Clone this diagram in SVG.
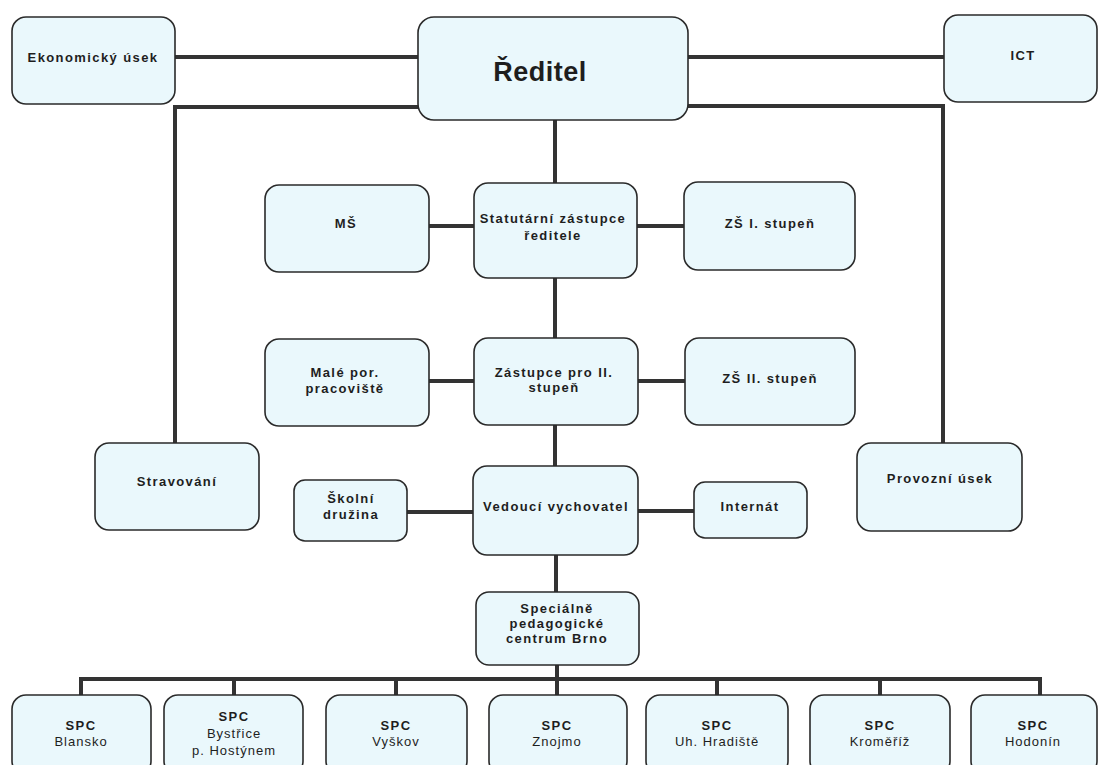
<svg xmlns="http://www.w3.org/2000/svg" width="1100" height="765" viewBox="0 0 1100 765">
<style>
.box{fill:#eaf8fc;stroke:#2a2a2a;stroke-width:1.6}
.t{font-family:"Liberation Sans",Arial,sans-serif;font-size:13px;font-weight:bold;letter-spacing:1.4px;fill:#1e1e1e;text-anchor:middle}
.r{font-weight:normal;letter-spacing:1px}
.big{font-size:27px;letter-spacing:0.5px}
.c{fill:none;stroke:#333;stroke-width:4}
</style>
<rect width="1100" height="765" fill="#ffffff"/>
<g id="connectors">
<path class="c" d="M175 57H418M688 57H944"/>
<path class="c" d="M418 107H175V443"/>
<path class="c" d="M688 106H943V443"/>
<path class="c" d="M555 120V183M555 278V338M555 425V466M556 555V592M557 665V679"/>
<path class="c" d="M429 226H474M637 226H684"/>
<path class="c" d="M429 381H474M638 381H685"/>
<path class="c" d="M407 512H473M638 511H694"/>
<path class="c" d="M81 697V679H1040V697M234 679V697M396 679V697M557 679V697M717 679V697M880 679V697"/>
</g>
<g id="ekonomicky"><rect class="box" x="12" y="17" width="163" height="87" rx="14"/><text class="t" x="93" y="62">Ekonomický úsek</text></g>
<g id="reditel"><rect class="box" x="418" y="17" width="270" height="103" rx="16"/><text class="t big" x="540" y="81">Ředitel</text></g>
<g id="ict"><rect class="box" x="944" y="15" width="153" height="87" rx="14"/><text class="t" x="1023" y="60">ICT</text></g>
<g id="ms"><rect class="box" x="265" y="185" width="164" height="87" rx="14"/><text class="t" x="346" y="228">MŠ</text></g>
<g id="statutarni"><rect class="box" x="474" y="183" width="163" height="95" rx="14"/><text class="t" x="553" y="223">Statutární zástupce</text><text class="t" x="553" y="240">ředitele</text></g>
<g id="zs1"><rect class="box" x="684" y="182" width="171" height="88" rx="14"/><text class="t" x="770" y="228">ZŠ I. stupeň</text></g>
<g id="male"><rect class="box" x="265" y="339" width="164" height="87" rx="14"/><text class="t" x="345" y="377">Malé por.</text><text class="t" x="345" y="393">pracoviště</text></g>
<g id="zastupce"><rect class="box" x="474" y="338" width="164" height="87" rx="14"/><text class="t" x="554" y="377">Zástupce pro II.</text><text class="t" x="554" y="392">stupeň</text></g>
<g id="zs2"><rect class="box" x="685" y="338" width="170" height="87" rx="14"/><text class="t" x="770" y="383">ZŠ II. stupeň</text></g>
<g id="stravovani"><rect class="box" x="95" y="443" width="164" height="87" rx="14"/><text class="t" x="177" y="486">Stravování</text></g>
<g id="provozni"><rect class="box" x="857" y="443" width="165" height="88" rx="14"/><text class="t" x="940" y="483">Provozní úsek</text></g>
<g id="skolni"><rect class="box" x="294" y="480" width="113" height="61" rx="11"/><text class="t" x="351" y="503">Školní</text><text class="t" x="351" y="519">družina</text></g>
<g id="vedouci"><rect class="box" x="473" y="466" width="165" height="89" rx="14"/><text class="t" x="556" y="511">Vedoucí vychovatel</text></g>
<g id="internat"><rect class="box" x="694" y="482" width="113" height="56" rx="11"/><text class="t" x="750" y="511">Internát</text></g>
<g id="spc-brno"><rect class="box" x="476" y="592" width="163" height="73" rx="13"/><text class="t" x="557" y="613">Speciálně</text><text class="t" x="557" y="628">pedagogické</text><text class="t" x="557" y="643">centrum Brno</text></g>
<g id="spc-blansko"><rect class="box" x="12" y="695" width="139" height="80" rx="14"/><text class="t" x="81" y="730">SPC</text><text class="t r" x="81" y="746">Blansko</text></g>
<g id="spc-bystrice"><rect class="box" x="164" y="695" width="139" height="80" rx="14"/><text class="t" x="234" y="721">SPC</text><text class="t r" x="234" y="738">Bystřice</text><text class="t r" x="234" y="755">p. Hostýnem</text></g>
<g id="spc-vyskov"><rect class="box" x="326" y="695" width="141" height="80" rx="14"/><text class="t" x="396" y="730">SPC</text><text class="t r" x="396" y="746">Vyškov</text></g>
<g id="spc-znojmo"><rect class="box" x="489" y="695" width="138" height="80" rx="14"/><text class="t" x="557" y="730">SPC</text><text class="t r" x="557" y="746">Znojmo</text></g>
<g id="spc-uh"><rect class="box" x="646" y="695" width="142" height="80" rx="14"/><text class="t" x="717" y="730">SPC</text><text class="t r" x="717" y="746">Uh. Hradiště</text></g>
<g id="spc-kromeriz"><rect class="box" x="810" y="695" width="140" height="80" rx="14"/><text class="t" x="880" y="730">SPC</text><text class="t r" x="880" y="746">Kroměříž</text></g>
<g id="spc-hodonin"><rect class="box" x="971" y="695" width="126" height="80" rx="14"/><text class="t" x="1033" y="730">SPC</text><text class="t r" x="1033" y="746">Hodonín</text></g>
</svg>
